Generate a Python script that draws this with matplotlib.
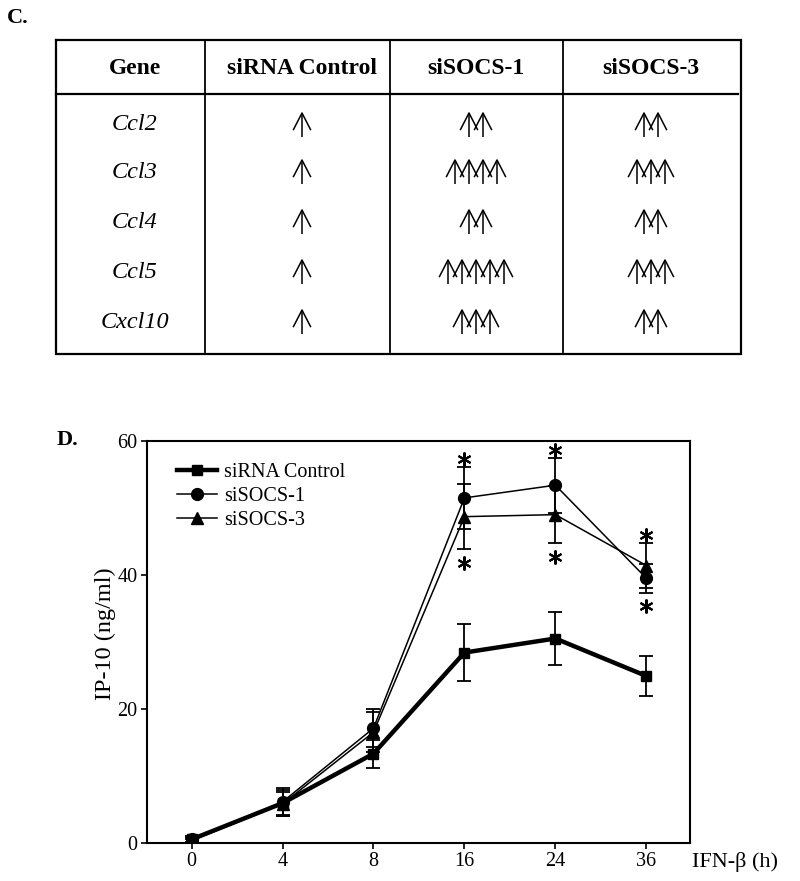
import matplotlib
matplotlib.use('Agg')
import matplotlib.pyplot as plt
import numpy as np

plt.rcParams['font.family'] = ['Liberation Serif', 'DejaVu Serif']

# ---------------- Panel C data ----------------
genes = ['Ccl2', 'Ccl3', 'Ccl4', 'Ccl5', 'Cxcl10']
table_headers = ['Gene', 'siRNA Control', 'siSOCS-1', 'siSOCS-3']
arrows_control = [1, 1, 1, 1, 1]
arrows_socs1 = [2, 4, 2, 5, 3]
arrows_socs3 = [2, 3, 2, 3, 2]

# ---------------- Panel D data ----------------
time_labels = ['0', '4', '8', '16', '24', '36']
ctrl_mean = [0.5, 5.9, 13.3, 28.4, 30.5, 24.9]
ctrl_err = [0.5, 1.9, 2.1, 4.2, 4.0, 3.0]
socs1_mean = [0.5, 6.1, 17.1, 51.5, 53.4, 39.5]
socs1_err = [0.4, 2.0, 2.8, 4.6, 4.1, 2.2]
socs3_mean = [0.3, 5.8, 16.5, 48.7, 49.0, 41.4]
socs3_err = [0.3, 1.8, 3.0, 4.9, 4.3, 3.3]
significant = [False, False, False, True, True, True]

W, H = 800, 881
fig = plt.figure(figsize=(W / 100, H / 100), dpi=100)

# background axes in pixel coordinates for the table panel
bg = fig.add_axes([0, 0, 1, 1])
bg.set_xlim(0, W)
bg.set_ylim(H, 0)
bg.axis('off')

tbl_left, tbl_right, tbl_top, tbl_bottom = 56, 741, 40, 354
header_line_y = 94
col_lines_x = [205, 390, 563]
col_centers = [135, 302, 476, 651]
header_y = 69
row_y = [125, 172, 222, 272, 322]

bg.plot([tbl_left, tbl_right, tbl_right, tbl_left, tbl_left],
        [tbl_top, tbl_top, tbl_bottom, tbl_bottom, tbl_top],
        color='black', lw=1.6, solid_joinstyle='miter')
bg.plot([tbl_left, tbl_right - 3], [header_line_y, header_line_y], color='black', lw=1.6)
for cx in col_lines_x:
    bg.plot([cx, cx], [tbl_top, tbl_bottom - 2], color='black', lw=1.3)

for cx, h in zip(col_centers, table_headers):
    bg.text(cx, header_y, h, ha='center', va='center', fontsize=17, fontweight='bold')

for cy, g in zip(row_y, genes):
    bg.text(col_centers[0], cy, g, ha='center', va='center', fontsize=17.5, style='italic')


def draw_arrows(cx, cy, n):
    spacing = 14
    half_w = 8.5
    head_h = 16.5
    half_h = 12
    start = cx - (n - 1) * spacing / 2
    for k in range(n):
        xk = start + k * spacing
        bg.plot([xk, xk], [cy - half_h, cy + half_h], color='black', lw=1.1,
                solid_capstyle='butt')
        bg.plot([xk - half_w, xk, xk + half_w],
                [cy - half_h + head_h, cy - half_h, cy - half_h + head_h],
                color='black', lw=1.1)


for col, counts in zip(col_centers[1:], [arrows_control, arrows_socs1, arrows_socs3]):
    for cy, n in zip(row_y, counts):
        draw_arrows(col, cy, n)

bg.text(7, 18, 'C.', ha='left', va='center', fontsize=16, fontweight='bold')
bg.text(57, 440, 'D.', ha='left', va='center', fontsize=16, fontweight='bold')

# ---------------- Panel D chart ----------------
ax_left, ax_right, ax_top, ax_bottom = 147, 690, 441, 842.7
ax = fig.add_axes([ax_left / W, (H - ax_bottom) / H,
                   (ax_right - ax_left) / W, (ax_bottom - ax_top) / H])
ax.patch.set_alpha(0)
x = np.arange(len(time_labels))

ax.plot(x, ctrl_mean, color='black', lw=3.2, marker='s', ms=7.5,
        label='siRNA Control', zorder=4)
ax.errorbar(x, ctrl_mean, yerr=ctrl_err, fmt='none', ecolor='black',
            elinewidth=1.3, capsize=5, capthick=1.3, zorder=3)
ax.plot(x, socs1_mean, color='black', lw=1.1, marker='o', ms=8.5,
        label='siSOCS-1', zorder=4)
ax.errorbar(x, socs1_mean, yerr=socs1_err, fmt='none', ecolor='black',
            elinewidth=1.3, capsize=5, capthick=1.3, zorder=3)
ax.plot(x, socs3_mean, color='black', lw=1.1, marker='^', ms=8,
        label='siSOCS-3', zorder=4)
ax.errorbar(x, socs3_mean, yerr=socs3_err, fmt='none', ecolor='black',
            elinewidth=1.3, capsize=5, capthick=1.3, zorder=3)

s1 = np.array(socs1_mean); e1 = np.array(socs1_err)
s3 = np.array(socs3_mean); e3 = np.array(socs3_err)
sig = np.array(significant)
upper = np.maximum(s1 + e1, s3 + e3) + 1.2
lower = np.minimum(s1 - e1, s3 - e3) - 2.0
ax.plot(x[sig], upper[sig], ls='none', marker=(6, 2, 0), ms=10, mew=1.5,
        color='black', zorder=5)
ax.plot(x[sig], lower[sig], ls='none', marker=(6, 2, 0), ms=10, mew=1.5,
        color='black', zorder=5)

ax.set_xlim(-0.49, 5.48)
ax.set_ylim(0, 60)
ax.set_yticks([0, 20, 40, 60])
ax.set_xticks(x)
ax.set_xticklabels(time_labels)
ax.tick_params(direction='out', length=4, width=1.2, labelsize=14.5, pad=3)
for sp in ax.spines.values():
    sp.set_linewidth(1.5)

ax.set_ylabel('IP-10 (ng/ml)', fontsize=17.5)
ax.yaxis.set_label_coords(-0.058, 0.52)

leg = ax.legend(loc='upper left', bbox_to_anchor=(0.055, 0.945), frameon=False,
                fontsize=14.5, handlelength=2.0, handletextpad=0.35,
                labelspacing=0.25, borderpad=0, borderaxespad=0, numpoints=1)

fig.text(692 / W, (H - 862) / H, 'IFN-\u03b2 (h)', ha='left', va='center', fontsize=16)

fig.savefig('out.png', dpi=100)
